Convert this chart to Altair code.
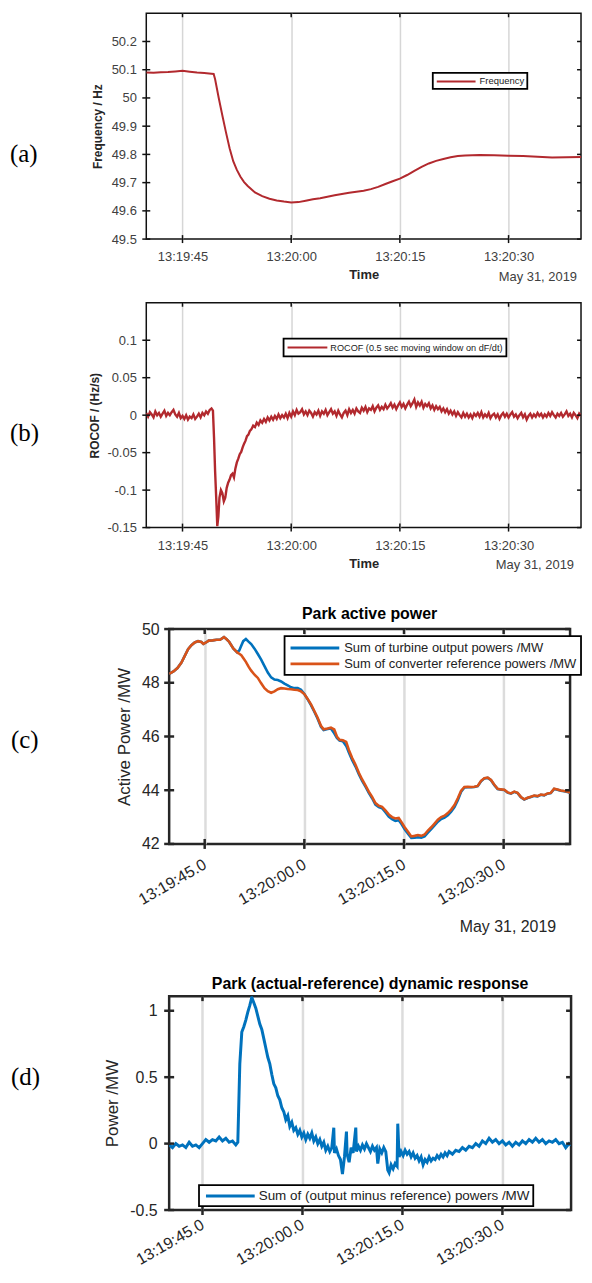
import altair as alt
import pandas as pd

# ---------------- data (seconds after 13:19:40, 31 May 2019) ----------------
T0 = pd.Timestamp("2019-05-31 13:19:40")

FREQ_T = [0, 1, 2, 3, 4, 5, 6, 7, 8, 9,
          9.3, 9.5, 10, 10.5, 11, 11.5, 12, 12.5, 13, 13.5,
          14, 15, 16, 17, 18, 19, 20, 21, 22, 23,
          24, 25, 26, 27, 28, 29, 30, 31, 32, 33,
          34, 35, 36, 37, 38, 39, 40, 41, 42, 43,
          44, 45, 46, 48, 50, 52, 54, 56, 58, 60]
FREQ_V = [50.090, 50.089, 50.091, 50.092, 50.094, 50.096, 50.093, 50.090, 50.088, 50.086,
          50.085, 50.066, 50.000, 49.938, 49.878, 49.822, 49.776, 49.745, 49.721, 49.702,
          49.688, 49.665, 49.652, 49.643, 49.637, 49.633, 49.630, 49.631, 49.636, 49.641,
          49.645, 49.650, 49.655, 49.660, 49.664, 49.668, 49.671, 49.677, 49.685, 49.695,
          49.705, 49.714, 49.727, 49.742, 49.756, 49.768, 49.777, 49.784, 49.790, 49.794,
          49.796, 49.797, 49.798, 49.797, 49.795, 49.794, 49.792, 49.789, 49.790, 49.791]

ROCOF_T = [0.0, 0.25, 0.5, 0.75, 1.0, 1.25, 1.5, 1.75, 2.0, 2.25,
           2.5, 2.75, 3.0, 3.25, 3.5, 3.75, 4.0, 4.25, 4.5, 4.75,
           5.0, 5.25, 5.5, 5.75, 6.0, 6.25, 6.5, 6.75, 7.0, 7.25,
           7.5, 7.75, 8.0, 8.25, 8.5, 8.75, 9.0,
           9.2, 9.35, 9.5, 9.65, 9.8, 9.95, 10.1, 10.3, 10.5, 10.7,
           10.9, 11.1, 11.3, 11.5, 11.7, 11.9, 12.1, 12.3, 12.5, 12.7,
           12.9, 13.1, 13.3, 13.5, 13.7, 13.9, 14.1, 14.3,
           14.5, 14.75, 15.0, 15.25, 15.5, 15.75, 16.0, 16.25, 16.5, 16.75,
           17.0, 17.25, 17.5, 17.75, 18.0, 18.25, 18.5, 18.75, 19.0, 19.25,
           19.5, 19.75, 20.0, 20.25, 20.5, 20.75, 21.0, 21.25, 21.5, 21.75,
           22.0, 22.25, 22.5, 22.75, 23.0, 23.25, 23.5, 23.75, 24.0, 24.25,
           24.5, 24.75, 25.0, 25.25, 25.5, 25.75, 26.0, 26.25, 26.5, 26.75,
           27.0, 27.25, 27.5, 27.75, 28.0, 28.25, 28.5, 28.75, 29.0, 29.25,
           29.5, 29.75, 30.0, 30.25, 30.5, 30.75, 31.0, 31.25, 31.5, 31.75,
           32.0, 32.25, 32.5, 32.75, 33.0, 33.25, 33.5, 33.75, 34.0, 34.25,
           34.5, 34.75, 35.0, 35.25, 35.5, 35.75, 36.0, 36.25, 36.5, 36.75,
           37.0, 37.25, 37.5, 37.75, 38.0, 38.25, 38.5, 38.75, 39.0, 39.25,
           39.5, 39.75, 40.0, 40.25, 40.5, 40.75, 41.0, 41.25, 41.5, 41.75,
           42.0, 42.25, 42.5, 42.75, 43.0, 43.25, 43.5, 43.75, 44.0, 44.25,
           44.5, 44.75, 45.0, 45.25, 45.5, 45.75, 46.0, 46.25, 46.5, 46.75,
           47.0, 47.25, 47.5, 47.75, 48.0, 48.25, 48.5, 48.75, 49.0, 49.25,
           49.5, 49.75, 50.0, 50.25, 50.5, 50.75, 51.0, 51.25, 51.5, 51.75,
           52.0, 52.25, 52.5, 52.75, 53.0, 53.25, 53.5, 53.75, 54.0, 54.25,
           54.5, 54.75, 55.0, 55.25, 55.5, 55.75, 56.0, 56.25, 56.5, 56.75,
           57.0, 57.25, 57.5, 57.75, 58.0, 58.25, 58.5, 58.75, 59.0, 59.25,
           59.5, 59.75, 60.0]
ROCOF_V = [0.003, -0.002, 0.004, 0.001, -0.003, 0.005, 0.000, 0.003, -0.002, 0.002,
           0.006, -0.001, 0.003, 0.000, 0.004, 0.007, 0.001, -0.002, 0.003, -0.004,
           -0.001, -0.005, 0.000, -0.006, -0.002, -0.004, 0.001, -0.005, -0.002, 0.002,
           -0.003, 0.003, 0.000, 0.005, 0.002, 0.007, 0.009,
           0.006, -0.030, -0.075, -0.110, -0.148, -0.135, -0.110, -0.100, -0.104, -0.115,
           -0.110, -0.097, -0.090, -0.086, -0.080, -0.078, -0.083, -0.071, -0.063, -0.058,
           -0.052, -0.049, -0.043, -0.038, -0.034, -0.028, -0.026, -0.021,
           -0.019, -0.014, -0.016, -0.010, -0.013, -0.007, -0.010, -0.005, -0.009, -0.003,
           -0.007, -0.002, -0.006, -0.001, -0.005, 0.001, -0.004, 0.000, -0.003, 0.002,
           -0.004, 0.003, -0.002, 0.005, 0.000, 0.007, 0.002, 0.004, 0.008, 0.001,
           0.005, 0.000, 0.006, 0.003, -0.002, 0.004, 0.001, 0.006, -0.001, 0.005,
           0.002, 0.007, 0.000, 0.004, 0.008, 0.002, 0.005, -0.001, 0.006, 0.001,
           -0.003, 0.003, 0.006, 0.000, 0.008, 0.003, 0.007, 0.002, 0.009, 0.005,
           0.003, 0.010, 0.006, 0.011, 0.004, 0.009, 0.007, 0.012, 0.005, 0.010,
           0.013, 0.007, 0.011, 0.008, 0.014, 0.009, 0.012, 0.016, 0.010, 0.014,
           0.008, 0.013, 0.017, 0.011, 0.015, 0.009, 0.014, 0.018, 0.012, 0.016,
           0.021, 0.011, 0.017, 0.013, 0.018, 0.010, 0.015, 0.012, 0.016, 0.009,
           0.013, 0.007, 0.012, 0.008, 0.011, 0.005, 0.009, 0.004, 0.008, 0.002,
           0.006, 0.001, 0.005, -0.001, 0.004, 0.000, -0.003, 0.003, -0.002, 0.002,
           -0.003, 0.001, -0.004, 0.002, -0.001, 0.003, -0.002, 0.004, -0.003, 0.001,
           -0.002, 0.003, -0.004, 0.000, 0.002, -0.003, 0.001, -0.005, 0.000, 0.003,
           -0.002, 0.002, -0.003, 0.001, 0.004, -0.002, 0.001, -0.004, 0.000, 0.003,
           -0.003, 0.001, -0.006, -0.001, 0.002, -0.003, 0.001, -0.002, 0.003, -0.001,
           0.002, -0.003, 0.001, -0.002, 0.003, -0.001, 0.004, 0.000, -0.003, 0.002,
           -0.001, 0.003, -0.002, 0.001, 0.005, -0.001, 0.002, -0.003, 0.003, 0.000,
           -0.004, 0.002, -0.001]

PWR_T = [-0.35, 0.3, 0.9, 1.5, 2.0, 2.5, 3.0, 3.5, 4.0, 4.5,
         4.8, 5.2, 5.6, 6.2, 6.8, 7.3, 7.9, 8.3, 8.7, 9.3,
         9.9, 10.2, 10.5, 10.8, 11.2, 11.6, 12.0, 12.5, 13.0, 13.5,
         14.0, 14.5, 15.0, 15.5, 16.0, 16.5, 17.0, 17.5, 18.0, 18.5,
         19.0, 19.5, 20.0, 20.5, 21.0, 21.5, 22.0, 22.5, 22.9, 23.5,
         24.0, 24.5, 24.9, 25.3, 25.8, 26.3, 26.7, 27.2, 27.7, 28.2,
         28.7, 29.2, 29.7, 30.2, 30.7, 31.2, 31.7, 32.2, 32.7, 33.2,
         33.7, 34.2, 34.6, 35.1, 35.6, 36.1, 36.6, 37.1, 37.6, 38.1,
         38.6, 39.1, 39.6, 40.1, 40.6, 41.1, 41.6, 42.1, 42.6, 43.1,
         43.6, 44.1, 44.6, 45.1, 45.6, 46.1, 46.6, 47.1, 47.6, 48.1,
         48.6, 49.1, 49.6, 50.1, 50.6, 51.1, 51.6, 52.1, 52.6, 53.1,
         53.6, 54.1, 54.6, 55.1, 55.6, 56.1, 56.6, 57.1, 57.6, 58.1,
         58.6, 59.1, 59.6, 60.0]
PWR_OUT = [48.33, 48.42, 48.55, 48.75, 49.00, 49.25, 49.40, 49.50, 49.55, 49.52,
           49.45, 49.50, 49.57, 49.58, 49.60, 49.60, 49.70, 49.62, 49.52, 49.28,
           49.13, 49.20, 49.38, 49.55, 49.63, 49.53, 49.44, 49.27, 49.07, 48.86,
           48.62, 48.38, 48.20, 48.12, 48.10, 48.05, 47.97, 47.90, 47.83, 47.80,
           47.80, 47.74, 47.58, 47.38, 47.17, 46.92, 46.66, 46.36, 46.24, 46.28,
           46.30, 46.12, 45.95, 45.85, 45.82, 45.65, 45.40, 45.12, 44.88, 44.60,
           44.35, 44.13, 43.90, 43.70, 43.46, 43.37, 43.33, 43.18, 43.02, 42.92,
           42.86, 42.88, 42.75, 42.55, 42.38, 42.22, 42.23, 42.25, 42.23, 42.28,
           42.42, 42.55, 42.69, 42.83, 42.93, 42.98, 43.07, 43.20, 43.37, 43.63,
           43.94, 44.10, 44.11, 44.11, 44.12, 44.15, 44.33, 44.44, 44.46, 44.37,
           44.19, 44.04, 44.02, 44.01, 43.91, 43.87, 43.94, 43.89, 43.74, 43.65,
           43.71, 43.75, 43.79, 43.77, 43.83, 43.81, 43.87, 43.89, 44.05, 44.02,
           43.98, 43.96, 43.93, 43.91]
PWR_REF = [48.33, 48.42, 48.55, 48.75, 49.00, 49.25, 49.40, 49.50, 49.55, 49.52,
           49.45, 49.50, 49.57, 49.58, 49.60, 49.60, 49.70, 49.62, 49.52, 49.28,
           49.13, 49.08, 49.03, 48.92, 48.78, 48.60, 48.45, 48.30, 48.18, 47.98,
           47.80, 47.69, 47.63, 47.68, 47.76, 47.80, 47.79, 47.77, 47.76, 47.74,
           47.73, 47.68, 47.58, 47.40, 47.20, 46.95, 46.70, 46.40, 46.27, 46.30,
           46.33, 46.26, 46.00, 45.88, 45.86, 45.80, 45.50, 45.20, 44.95, 44.65,
           44.40, 44.18, 43.95, 43.75, 43.52, 43.42, 43.38, 43.25, 43.10, 43.00,
           42.95, 42.97, 42.82, 42.62, 42.45, 42.28, 42.30, 42.33, 42.30, 42.35,
           42.50, 42.62, 42.76, 42.90, 43.00, 43.05, 43.15, 43.28, 43.45, 43.70,
           43.98, 44.12, 44.13, 44.12, 44.13, 44.16, 44.35, 44.45, 44.47, 44.38,
           44.20, 44.05, 44.03, 44.02, 43.92, 43.88, 43.95, 43.90, 43.75, 43.66,
           43.72, 43.76, 43.80, 43.78, 43.84, 43.82, 43.88, 43.90, 44.06, 44.03,
           43.99, 43.97, 43.94, 43.92]

DIFF_T = [0.0, 0.5, 1.0, 1.5, 2.0, 2.5, 3.0, 3.5, 4.0, 4.5,
          5.0, 5.5, 6.0, 6.5, 7.0, 7.5, 8.0, 8.5, 9.0, 9.5,
          10.0, 10.3, 10.6, 10.9, 11.2, 11.5, 11.8, 12.1, 12.4, 12.7,
          13.0, 13.3, 13.6, 13.9, 14.2, 14.5, 14.8, 15.1, 15.4, 15.7,
          16.0, 16.3, 16.6, 16.9, 17.2, 17.5, 17.8, 18.1, 18.4, 18.7,
          19.0, 19.3, 19.6, 19.9, 20.2, 20.5, 20.8, 21.1, 21.4, 21.7,
          22.0, 22.3, 22.6, 22.9, 23.2, 23.5, 23.8, 24.1, 24.4, 24.7,
          24.8, 25.1, 25.4, 25.7, 26.0, 26.3, 26.6, 26.7, 27.0, 27.3,
          27.6, 28.0, 28.1, 28.4, 28.7, 29.0, 29.3, 29.6, 29.9, 30.2,
          30.5, 30.8, 31.1, 31.3, 31.6, 31.9, 32.2, 32.5, 32.8, 33.0,
          33.3, 33.6, 33.9, 34.2, 34.3, 34.5, 34.8, 35.1, 35.4, 35.7,
          36.0, 36.3, 36.6, 36.9, 37.2, 37.5, 37.8, 38.1, 38.4, 38.7,
          39.0, 39.3, 39.6, 39.9, 40.2, 40.5, 40.8, 41.1, 41.4, 41.7,
          42.0, 42.5, 43.0, 43.5, 44.0, 44.5, 45.0, 45.5, 46.0, 46.5,
          47.0, 47.5, 48.0, 48.5, 49.0, 49.5, 50.0, 50.5, 51.0, 51.5,
          52.0, 52.5, 53.0, 53.5, 54.0, 54.5, 55.0, 55.5, 56.0, 56.5,
          57.0, 57.5, 58.0, 58.5, 59.0, 59.5, 60.0, 60.3]
DIFF_V = [-0.01, -0.03, 0.00, -0.02, -0.01, -0.03, 0.01, -0.02, -0.01, -0.03,
          0.00, 0.03, 0.01, 0.03, 0.02, 0.05, 0.02, 0.04, 0.01, 0.02,
          -0.01, 0.01, 0.60, 0.84, 0.88, 0.93, 0.99, 1.04, 1.10, 1.06,
          1.02, 0.96, 0.90, 0.86, 0.79, 0.72, 0.65, 0.60, 0.52, 0.45,
          0.42, 0.36, 0.33, 0.27, 0.24, 0.18, 0.21, 0.13, 0.16, 0.10,
          0.12, 0.07, 0.10, 0.05, 0.08, 0.03, 0.07, 0.04, 0.08, 0.02,
          0.05, 0.00, 0.03, -0.02, 0.01, -0.05, -0.02, -0.06, -0.03, 0.12,
          -0.07, -0.04, -0.09, -0.12, -0.23, -0.10, 0.09, -0.08, -0.14, -0.03,
          -0.07, 0.12, -0.06, -0.02, -0.05, -0.01, -0.04, 0.00, -0.03, -0.06,
          -0.02, -0.05, -0.03, -0.15, -0.04, -0.07, -0.03, -0.06, -0.20, -0.22,
          -0.16, -0.19, -0.15, -0.17, 0.15, -0.10, -0.06, -0.09, -0.05, -0.08,
          -0.06, -0.10, -0.07, -0.11, -0.09, -0.13, -0.10, -0.16, -0.12, -0.14,
          -0.10, -0.13, -0.11, -0.12, -0.09, -0.11, -0.08, -0.10, -0.07, -0.09,
          -0.06, -0.08, -0.05, -0.06, -0.03, -0.05, -0.02, -0.03, 0.00, -0.02,
          0.02, 0.00, 0.04, 0.01, 0.03, 0.00, 0.02, -0.01, 0.01, -0.02,
          0.01, -0.01, 0.02, 0.00, 0.03, 0.01, 0.04, 0.01, 0.03, 0.00,
          0.02, 0.01, 0.03, 0.00, 0.01, -0.03, 0.00, -0.01]

TICK_SECS = [5, 20, 35, 50]                     # 13:19:45, 13:20:00, 13:20:15, 13:20:30
FREQ_TICKS = [49.5, 49.6, 49.7, 49.8, 49.9, 50.0, 50.1, 50.2]
ROCOF_TICKS = [-0.15, -0.1, -0.05, 0.0, 0.05, 0.1]
PWR_TICKS = [42, 44, 46, 48, 50]
DIFF_TICKS = [-0.5, 0.0, 0.5, 1.0]

S_FREQ = ["Frequency"]
S_ROCOF = ["ROCOF (0.5 sec moving window on dF/dt)"]
S_PWR = ["Sum of turbine output powers /MW", "Sum of converter reference powers /MW"]
S_DIFF = ["Sum of (output minus reference) powers /MW"]

RED = "#B2292E"
BLUE = "#0072BD"
ORANGE = "#D95319"
SANS = "Liberation Sans"


def ts(secs):
    return [T0 + pd.Timedelta(seconds=s) for s in secs]


def dt(h, m, s, ms=0):
    return alt.DateTime(year=2019, month=5, date=31, hours=h, minutes=m, seconds=s, milliseconds=ms)


TICK_DT = [dt(13, 19, 45), dt(13, 20, 0), dt(13, 20, 15), dt(13, 20, 30)]


def series_df(t, v, name):
    return pd.DataFrame({"time": ts(t), "value": v, "series": name})


def legend(x, y, pad, size, sw, soff, loff, fs, rowpad=1):
    # label x = entry size + symbolOffset + labelOffset
    return alt.Legend(title=None, orient="none", legendX=x, legendY=y,
                      strokeColor="black", fillColor="white", padding=pad, cornerRadius=0,
                      symbolType="M-4,0H4", symbolSize=size, symbolStrokeWidth=sw,
                      symbolOffset=soff, labelOffset=loff, labelFontSize=fs,
                      labelFont=SANS, labelColor="#222222", labelLimit=500,
                      rowPadding=rowpad)


def panel(df, dom, rng, leg, x_dom, x_axis, y_dom, y_axis, W, H, lw,
          tick_len, tick_w, tick_col, frame_w, frame_col, y_ticks,
          tag, tag_x, tag_y, date=None, title=None, title_off=0):
    x_enc = alt.X("time:T", scale=alt.Scale(domain=x_dom), axis=x_axis)
    y_enc = alt.Y("value:Q", scale=alt.Scale(domain=y_dom, nice=False, zero=False), axis=y_axis)
    line = alt.Chart(df).mark_line(strokeWidth=lw, clip=True).encode(
        x=x_enc, y=y_enc,
        color=alt.Color("series:N", scale=alt.Scale(domain=dom, range=rng), legend=leg),
    )
    xt = pd.DataFrame({"time": ts(TICK_SECS)})
    yt = pd.DataFrame({"value": y_ticks})
    rk = dict(color=tick_col, strokeWidth=tick_w)
    layers = [
        line,
        alt.Chart(xt).mark_rule(**rk).encode(x=x_enc, y=alt.value(H - tick_len), y2=alt.value(H + tick_len)),
        alt.Chart(xt).mark_rule(**rk).encode(x=x_enc, y=alt.value(0), y2=alt.value(tick_len)),
        alt.Chart(yt).mark_rule(**rk).encode(y=y_enc, x=alt.value(-tick_len), x2=alt.value(tick_len)),
        alt.Chart(yt).mark_rule(**rk).encode(y=y_enc, x=alt.value(W - tick_len), x2=alt.value(W)),
        alt.Chart(pd.DataFrame({"t": [tag]})).mark_text(
            font="Liberation Serif", fontSize=25, align="left", baseline="middle", color="black"
        ).encode(text="t:N", x=alt.value(tag_x), y=alt.value(tag_y)),
    ]
    if date is not None:
        dx, dy, dfs, dcol = date
        layers.append(
            alt.Chart(pd.DataFrame({"t": ["May 31, 2019"]})).mark_text(
                font=SANS, fontSize=dfs, align="right", baseline="middle", color=dcol
            ).encode(text="t:N", x=alt.value(dx), y=alt.value(dy))
        )
    props = dict(width=W, height=H, view=alt.ViewBackground(stroke=frame_col, strokeWidth=frame_w))
    if title is not None:
        props["title"] = alt.TitleParams(text=title, font=SANS, fontSize=16, fontWeight="bold",
                                         color="black", anchor="middle", offset=title_off)
    return alt.layer(*layers).properties(**props)


def row(p):
    # 1-px invisible cell: the panel is then placed by its own left extent (its tag)
    dummy = alt.Chart(pd.DataFrame({"d": [0]})).mark_rule(strokeWidth=0, opacity=0).encode(
        x=alt.value(0), x2=alt.value(0), y=alt.value(0), y2=alt.value(0)
    ).properties(width=1, height=1,
                 view=alt.ViewBackground(stroke="transparent", strokeWidth=0, fill="transparent"))
    return alt.hconcat(dummy, p, spacing=0).resolve_scale(color="independent")


NUM_LABEL = "replace(format(datum.value, '.2~f'), '\u2212', '-')"


def ab_x_axis():
    return alt.Axis(values=TICK_DT, format="%H:%M:%S", title="Time", ticks=False, domain=False,
                    grid=True, gridColor="#d6d6d6", gridWidth=1.5,
                    labelFont=SANS, labelFontSize=13, labelColor="#404040", labelPadding=12,
                    labelFlush=False, titleFont=SANS, titleFontSize=13, titleFontWeight="bold",
                    titleColor="#262626", titlePadding=5)


def ab_y_axis(vals, title, tpad):
    return alt.Axis(values=vals, labelExpr=NUM_LABEL, title=title, ticks=False,
                    domain=False, grid=False, labelFont=SANS, labelFontSize=13,
                    labelColor="#404040", labelPadding=10, labelLimit=300, titleFont=SANS,
                    titleFontSize=12, titleFontWeight="bold", titleColor="#262626",
                    titlePadding=tpad)


def cd_x_axis(lpad):
    return alt.Axis(values=TICK_DT, labelExpr="timeFormat(datum.value, '%H:%M:%S') + '.0'",
                    title=None, ticks=False, domain=False, grid=True, gridColor="#dcdcdc",
                    gridWidth=2.5, labelFont=SANS, labelFontSize=16, labelColor="#262626",
                    labelAngle=330, labelAlign="right", labelBaseline="middle",
                    labelPadding=lpad, labelFlush=False)


def cd_y_axis(vals, title, lpad, tpad):
    return alt.Axis(values=vals, labelExpr=NUM_LABEL, title=title, ticks=False,
                    domain=False, grid=False, labelFont=SANS, labelFontSize=16,
                    labelColor="#262626", labelPadding=lpad, labelLimit=300, titleFont=SANS,
                    titleFontSize=17, titleFontWeight="normal", titleColor="#262626",
                    titlePadding=tpad)


# ---------------- panels ----------------
A = panel(series_df(FREQ_T, FREQ_V, S_FREQ[0]), S_FREQ, [RED],
          legend(288, 60, 2.5, 95, 2, 15, 17.5, 9.5),
          [dt(13, 19, 40), dt(13, 20, 40)], ab_x_axis(),
          [49.5, 50.3], ab_y_axis(FREQ_TICKS, "Frequency / Hz", 7),
          437, 227, 2, 4, 1.5, "#111111", 1.5, "#111111", FREQ_TICKS,
          "(a)", -137, 142, date=(433, 265, 13, "#404040"))

B = panel(series_df(ROCOF_T, ROCOF_V, S_ROCOF[0]), S_ROCOF, [RED],
          legend(138, 36, 3, 100, 2, 15, 17, 9.2),
          [dt(13, 19, 40), dt(13, 20, 40)], ab_x_axis(),
          [-0.15, 0.15], ab_y_axis(ROCOF_TICKS, "ROCOF / (Hz/s)", 5),
          437, 226, 2.4, 4, 1.5, "#111111", 1.5, "#111111", ROCOF_TICKS,
          "(b)", -137, 131, date=(430, 264, 13, "#404040"))

pwr_df = pd.concat([series_df(PWR_T, PWR_OUT, S_PWR[0]), series_df(PWR_T, PWR_REF, S_PWR[1])],
                   ignore_index=True)
C = panel(pwr_df, S_PWR, [BLUE, ORANGE],
          legend(116, 7, 4, 150, 3, 18.5, 21.5, 13),
          [dt(13, 19, 39, 650), dt(13, 20, 40)], cd_x_axis(19),
          [42, 50], cd_y_axis(PWR_TICKS, "Active Power /MW", 10, 8),
          403, 216, 2.6, 5, 2.5, "#262626", 2.5, "#262626", PWR_TICKS,
          "(c)", -159, 112, date=(389, 300, 16, "#262626"), title="Park active power",
          title_off=-1)

D = panel(series_df(DIFF_T, DIFF_V, S_DIFF[0]), S_DIFF, [BLUE],
          legend(30, 190, 3, 150, 3, 20.5, 20.5, 13.5),
          [dt(13, 19, 40), dt(13, 20, 40, 300)], cd_x_axis(13),
          [-0.5, 1.11], cd_y_axis(DIFF_TICKS, "Power /MW", 12, 8),
          404, 215, 3, 5, 2.5, "#262626", 2.5, "#262626", DIFF_TICKS,
          "(d)", -159, 81, title="Park (actual-reference) dynamic response", title_off=3)

ab = alt.vconcat(row(A), row(B), spacing=16).resolve_scale(color="independent")
cd = alt.vconcat(row(C), row(D), spacing=37).resolve_scale(color="independent")
chart = alt.vconcat(ab, cd, spacing=31).resolve_scale(color="independent").properties(
    padding={"left": 0, "top": 0, "right": 0, "bottom": 0}, background="white"
).configure_legend(strokeWidth=1.8)

chart.save("out.html", embed_options={"renderer": "svg", "actions": False})
